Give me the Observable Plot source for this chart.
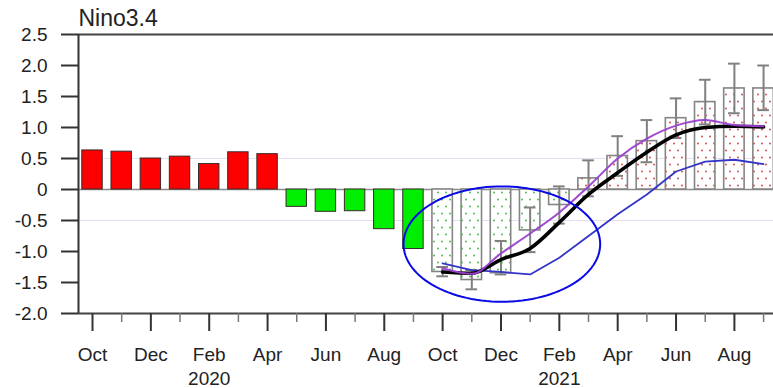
<!DOCTYPE html>
<html>
<head>
<meta charset="utf-8">
<script src="https://cdn.jsdelivr.net/npm/d3@7"></script>
<script src="https://cdn.jsdelivr.net/npm/@observablehq/plot@0.6"></script>
<style>
  body { margin: 0; background: #fff; }
  svg { display: block; }
</style>
</head>
<body>
<div id="chart"></div>
<script>
// Months are indexed from Oct 2019 (0) to Sep 2021 (23)
const monthLabels = ["Oct", "Dec", "Feb", "Apr", "Jun", "Aug", "Oct", "Dec", "Feb", "Apr", "Jun", "Aug"];
const majorTickIdx = [0, 2, 4, 6, 8, 10, 12, 14, 16, 18, 20, 22];
const minorTickIdx = [1, 3, 5, 7, 9, 11, 13, 15, 17, 19, 21, 23];
const yearLabels = ["2020", "2021"];
const yearIdx = [4, 16];
const yTicks = [2.5, 2.0, 1.5, 1.0, 0.5, 0, -0.5, -1.0, -1.5, -2.0];

// Observed Nino3.4 anomaly, Oct 2019 - Sep 2020
const observedIdx = [0, 1, 2, 3, 4, 5, 6, 7, 8, 9, 10, 11];
const observed = [0.63, 0.61, 0.50, 0.53, 0.41, 0.60, 0.57, -0.28, -0.36, -0.35, -0.64, -0.96];

// Forecast ensemble mean with spread, Oct 2020 - Sep 2021
const forecastIdx = [12, 13, 14, 15, 16, 17, 18, 19, 20, 21, 22, 23];
const forecastMean = [-1.33, -1.46, -1.35, -0.66, -0.25, 0.18, 0.54, 0.78, 1.15, 1.41, 1.63, 1.63];
const spreadLow = [-1.40, -1.61, -1.37, -1.01, -0.55, -0.11, 0.22, 0.44, 0.83, 1.05, 1.23, 1.28];
const spreadHigh = [-1.25, -1.30, -0.83, -0.29, 0.05, 0.47, 0.86, 1.12, 1.47, 1.77, 2.03, 2.00];

// Model forecast curves
const curveBlack = [-1.33, -1.35, -1.13, -0.95, -0.53, -0.08, 0.27, 0.60, 0.88, 1.00, 1.02, 1.01];
const curvePurple = [-1.27, -1.36, -1.03, -0.71, -0.37, 0.05, 0.50, 0.82, 1.03, 1.12, 1.04, 1.02];
const curveBlue = [-1.19, -1.30, -1.33, -1.37, -1.10, -0.75, -0.40, -0.08, 0.29, 0.45, 0.48, 0.41];

// Highlight ring around the La Nina minimum (centre in month/anomaly units)
const ring = {cx: 14.03, cy: -0.88, rx: 3.37, ry: 0.93};

const xDomain = [-0.48, 23.34];
const yDomain = [-2.0, 2.5];
const halfBar = 0.35;

const obsRows = observedIdx.map((i, k) => ({i, v: observed[k]}));
const fcRows = forecastIdx.map((i, k) => ({i, v: forecastMean[k], lo: spreadLow[k], hi: spreadHigh[k]}));
const curveRows = (vals) => forecastIdx.map((i, k) => ({i, v: vals[k]}));
const ringRows = d3.range(0, 361, 3).map(a => {
  const t = a * Math.PI / 180;
  return {x: ring.cx + ring.rx * Math.cos(t), y: ring.cy + ring.ry * Math.sin(t)};
});

const chart = Plot.plot({
  width: 773,
  height: 388,
  marginLeft: 78,
  marginRight: 0,
  marginTop: 34,
  marginBottom: 75,
  x: {type: "linear", domain: xDomain},
  y: {domain: yDomain},
  style: {fontFamily: "'Liberation Sans', Arial, sans-serif", fontSize: "19px", color: "#222", background: "#fff", overflow: "visible"},
  marks: [
    // faint reference lines
    Plot.ruleY([0.5, -0.5], {stroke: "#e4def3", strokeWidth: 1}),
    Plot.ruleY([0], {stroke: "#8a8a8a", strokeWidth: 1.6}),

    // observed bars
    Plot.rect(obsRows, {
      x1: d => d.i - halfBar, x2: d => d.i + halfBar, y1: 0, y2: "v",
      fill: d => d.v >= 0 ? "#ff0000" : "#00ee00",
      stroke: "#3a2a2a", strokeWidth: 1
    }),

    // forecast bars with dot fill
    Plot.rect(fcRows, {
      x1: d => d.i - halfBar, x2: d => d.i + halfBar, y1: 0, y2: "v",
      fill: d => d.v >= 0 ? "url(#dotsPos)" : "url(#dotsNeg)",
      stroke: "#858585", strokeWidth: 1.6
    }),

    // ensemble spread
    Plot.ruleX(fcRows, {x: "i", y1: "lo", y2: "hi", stroke: "#808080", strokeWidth: 2}),
    Plot.ruleY(fcRows, {y: "hi", x1: d => d.i - 0.2, x2: d => d.i + 0.2, stroke: "#808080", strokeWidth: 2}),
    Plot.ruleY(fcRows, {y: "lo", x1: d => d.i - 0.2, x2: d => d.i + 0.2, stroke: "#808080", strokeWidth: 2}),

    // forecast curves
    Plot.line(curveRows(curveBlue), {x: "i", y: "v", stroke: "#3434c8", strokeWidth: 1.8}),
    Plot.line(curveRows(curveBlack), {x: "i", y: "v", stroke: "#000", strokeWidth: 3.6, curve: "monotone-x"}),
    Plot.line(curveRows(curvePurple), {x: "i", y: "v", stroke: "#9b3fd0", strokeWidth: 2, strokeOpacity: 0.95, curve: "monotone-x"}),

    // highlight ring
    Plot.line(ringRows, {x: "x", y: "y", stroke: "#0a0ae6", strokeWidth: 2}),

    // frame
    Plot.ruleY([yDomain[1], yDomain[0]], {stroke: "#444", strokeWidth: 2}),
    Plot.ruleX([xDomain[0]], {stroke: "#333", strokeWidth: 2}),

    // axes
    Plot.axisY({
      ticks: yTicks, tickFormat: d => d === 0 ? "0" : d.toFixed(1),
      tickSize: 17, tickPadding: 14, stroke: "#333", strokeWidth: 2, label: null, fontSize: 19
    }),
    Plot.axisX({
      ticks: minorTickIdx, tickFormat: () => "", tickSize: 9,
      stroke: "#777", strokeWidth: 1.5, label: null
    }),
    Plot.axisX({
      ticks: majorTickIdx, tickFormat: (d) => monthLabels[majorTickIdx.indexOf(d)],
      tickSize: 18, tickPadding: 16, stroke: "#333", strokeWidth: 2, label: null, fontSize: 19
    }),
    Plot.text(yearLabels, {
      x: (d, k) => yearIdx[k], text: d => d, frameAnchor: "bottom", dy: 65,
      lineAnchor: "middle", fontSize: 19, fill: "#222"
    }),

    // title
    Plot.text(["Nino3.4"], {
      frameAnchor: "top-left", textAnchor: "start", lineAnchor: "bottom",
      dy: -9, fontSize: 23, fill: "#222"
    })
  ]
});

// dotted fills for the forecast bars
const ns = "http://www.w3.org/2000/svg";
const defs = document.createElementNS(ns, "defs");
defs.innerHTML = `
  <pattern id="dotsNeg" patternUnits="userSpaceOnUse" width="8" height="14">
    <rect width="8" height="14" fill="#fff"/>
    <circle cx="2" cy="3.5" r="0.9" fill="#3cb43c"/>
    <circle cx="6" cy="10.5" r="0.9" fill="#3cb43c"/>
  </pattern>
  <pattern id="dotsPos" patternUnits="userSpaceOnUse" width="8" height="14">
    <rect width="8" height="14" fill="#fff"/>
    <circle cx="2" cy="3.5" r="0.9" fill="#d23c3c"/>
    <circle cx="6" cy="10.5" r="0.9" fill="#d23c3c"/>
  </pattern>`;
chart.insertBefore(defs, chart.firstChild);

document.getElementById("chart").appendChild(chart);
</script>
</body>
</html>
